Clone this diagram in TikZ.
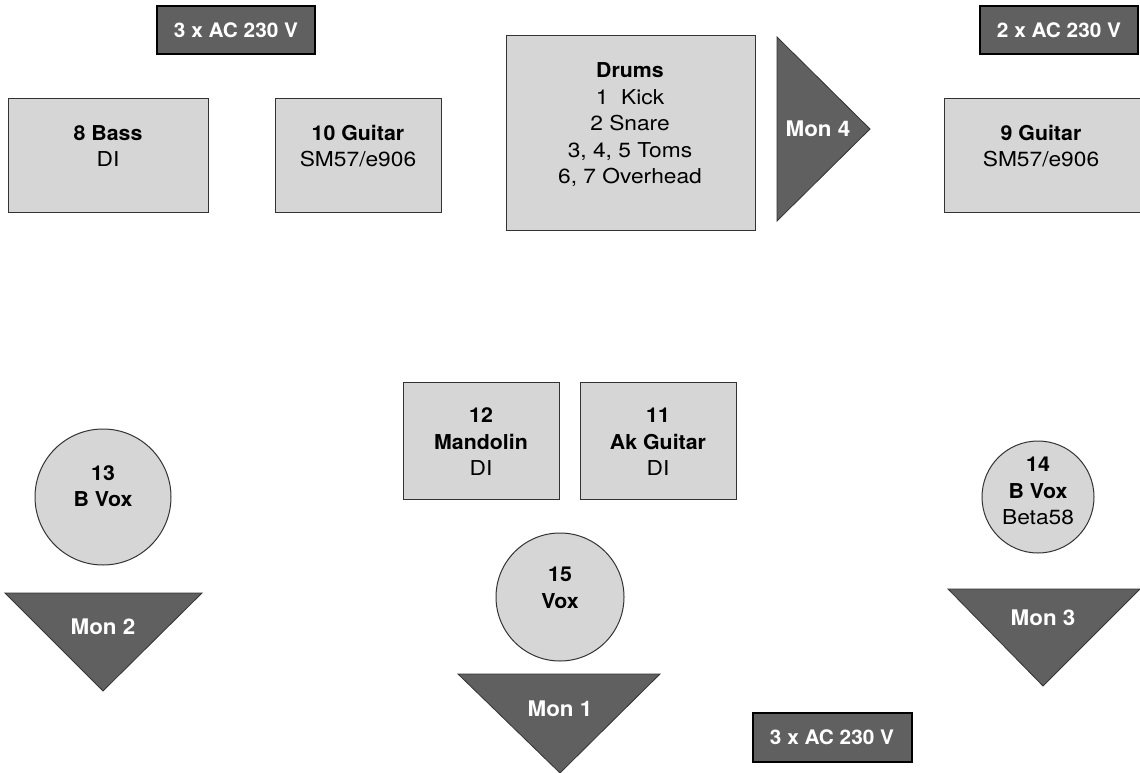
\documentclass[tikz,border=0pt]{standalone}
\usepackage{fontspec}
\setmainfont{TeX Gyre Heros}[FakeStretch=1.11, BoldFeatures={FakeStretch=1.04}]
\definecolor{lightbox}{HTML}{D6D6D6}
\definecolor{darkbox}{HTML}{606060}
\definecolor{edge}{HTML}{333333}
\tikzset{
  instr/.style={draw=edge, line width=1pt, fill=lightbox},
  power/.style={draw=black, line width=2pt, fill=darkbox},
  mon/.style={draw=edge, line width=0.8pt, fill=darkbox},
  txt/.style={align=center, font=\fontsize{20.5}{26.5}\selectfont, inner sep=0pt},
  wtxt/.style={txt, text=white, font=\fontsize{21.5}{26}\selectfont\bfseries},
  ptxt/.style={txt, text=white, font=\fontsize{20}{24}\selectfont\bfseries},
}
\begin{document}
\begin{tikzpicture}[x=1pt, y=-1pt]
\useasboundingbox (0,0) rectangle (1140,773);
\begin{scope}
\clip (0,0) rectangle (1140,773);
% power boxes
\draw[power] (157,6) rectangle (315,54);
\node[ptxt] (p1) at (236,30) {3 x AC 230 V};
\draw[power] (980,6) rectangle (1138,54);
\node[ptxt] (p2) at (1059,30) {2 x AC 230 V};
\draw[power] (753,713) rectangle (912,762);
\node[ptxt] (p3) at (832,737) {3 x AC 230 V};
% instrument boxes
\draw[instr] (8,99) rectangle (208,212);
\node[txt] (bass) at (108,146) {\textbf{8 Bass}\\DI};
\draw[instr] (275,99) rectangle (441,212);
\node[txt] (g10) at (358,146) {\textbf{10 Guitar}\\SM57/e906};
\draw[instr] (506,36) rectangle (755,230);
\node[txt] (drums) at (630,125) {\textbf{Drums}\\1\ \ Kick\\2 Snare\\3, 4, 5 Toms\\6, 7 Overhead};
\draw[instr] (944,99) rectangle (1145,212);
\node[txt] (g9) at (1041,146) {\textbf{9 Guitar}\\SM57/e906};
\draw[instr] (403,382) rectangle (559,499);
\node[txt] (mand) at (481,442) {\textbf{12}\\\textbf{Mandolin}\\DI};
\draw[instr] (580,382) rectangle (736,499);
\node[txt] (ak) at (658,442) {\textbf{11}\\\textbf{Ak Guitar}\\DI};
% vocal circles
\draw[instr] (103,497) circle (68);
\node[txt] (v13) at (103,486) {\textbf{13}\\\textbf{B Vox}};
\draw[instr] (1038,497) circle (56);
\node[txt] (v14) at (1038,491) {\textbf{14}\\\textbf{B Vox}\\Beta58};
\draw[instr] (560,597) circle (64);
\node[txt] (v15) at (560,588) {\textbf{15}\\\textbf{Vox}};
% monitors
\draw[mon] (777,37) -- (870,129) -- (777,221) -- cycle;
\node[wtxt] (m4) at (818,129) {Mon 4};
\draw[mon] (5,593) -- (202,593) -- (103,691) -- cycle;
\node[wtxt] (m2) at (103,627) {Mon 2};
\draw[mon] (948,589) -- (1140,589) -- (1043,686) -- cycle;
\node[wtxt] (m3) at (1043,618) {Mon 3};
\draw[mon] (458,674) -- (660,674) -- (560,773) -- cycle;
\node[wtxt] (m1) at (560,709) {Mon 1};
\end{scope}
\end{tikzpicture}
\end{document}
